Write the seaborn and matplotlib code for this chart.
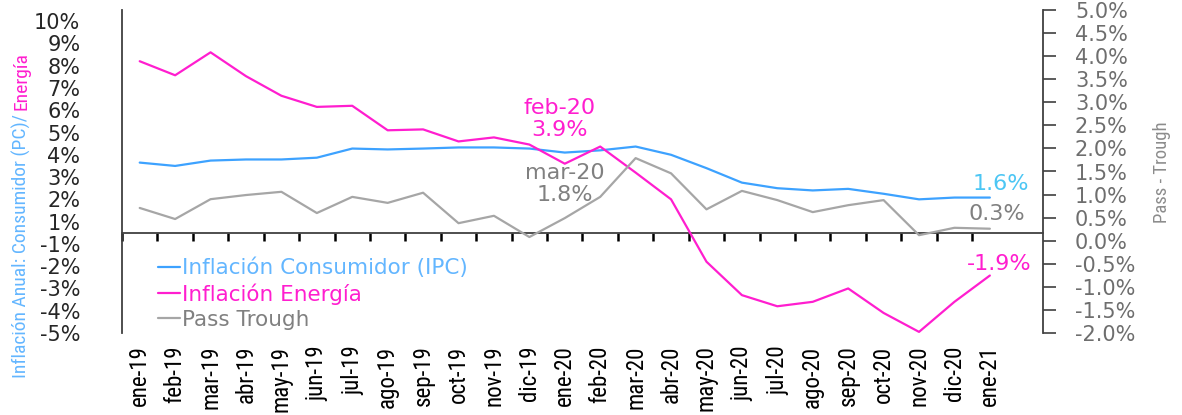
import os
import pandas as pd
import seaborn as sns
import matplotlib.pyplot as plt
from matplotlib import font_manager
from matplotlib.font_manager import FontProperties
from matplotlib.ticker import FuncFormatter

# datos (% anual)
meses = ['ene-19', 'feb-19', 'mar-19', 'abr-19', 'may-19', 'jun-19', 'jul-19',
         'ago-19', 'sep-19', 'oct-19', 'nov-19', 'dic-19', 'ene-20', 'feb-20',
         'mar-20', 'abr-20', 'may-20', 'jun-20', 'jul-20', 'ago-20', 'sep-20',
         'oct-20', 'nov-20', 'dic-20', 'ene-21']
ipc = [3.15, 3.00, 3.24, 3.29, 3.29, 3.37, 3.78, 3.74, 3.78, 3.83, 3.83, 3.78,
       3.60, 3.70, 3.87, 3.50, 2.90, 2.25, 2.00, 1.90, 1.97, 1.75, 1.50, 1.58, 1.58]
energia = [7.70, 7.07, 8.10, 7.03, 6.15, 5.65, 5.70, 4.60, 4.64, 4.10, 4.28, 3.96,
           3.10, 3.87, 2.70, 1.50, -1.30, -2.80, -3.30, -3.10, -2.50, -3.60, -4.45,
           -3.10, -1.92]
pass_trough = [0.71, 0.47, 0.90, 0.99, 1.06, 0.60, 0.95, 0.82, 1.04, 0.38, 0.54,
               0.08, 0.49, 0.95, 1.79, 1.46, 0.68, 1.08, 0.88, 0.62, 0.77, 0.88,
               0.12, 0.28, 0.26]

c_ipc = '#3DA2FF'
c_ipc_txt = '#63B6FF'
c_ene = '#FF1ECF'
c_pt = '#A6A6A6'
c_pt_txt = '#808080'
c_axis = '#404040'

df = pd.DataFrame({'pos': range(len(meses)), 'mes': meses, 'ipc': ipc,
                   'energia': energia, 'pass': pass_trough})

sns.set_style('white')
plt.rcParams['font.family'] = ['DejaVu Sans']

# fuente estrecha para textos verticales
files = [f.fname for f in font_manager.fontManager.ttflist]
narrow_file = None
for key in ['LiberationSansNarrow-Regular', 'NotoSans-ExtraCondensed.', 'NotoSans-Condensed.',
            'RobotoCondensed-Regular', 'DejaVuSansCondensed.', 'Condensed-Regular',
            'Condensed.']:
    hits = [fn for fn in files if key.lower() in os.path.basename(fn).lower()]
    if hits:
        narrow_file = hits[0]
        break


def narrow(size):
    if narrow_file:
        return FontProperties(fname=narrow_file, size=size)
    return FontProperties(family='Liberation Sans', size=size * 0.8)


fig = plt.figure(figsize=(11.82, 4.15), dpi=100)
ax = fig.add_axes([122 / 1182, 1 - 333 / 415, (1043 - 122) / 1182, (333 - 10) / 415])
ax2 = ax.twinx()

sns.lineplot(data=df, x='pos', y='ipc', ax=ax, color=c_ipc, lw=1.6,
             label='Inflación Consumidor (IPC)', legend=False)
sns.lineplot(data=df, x='pos', y='energia', ax=ax, color=c_ene, lw=1.6,
             label='Inflación Energía', legend=False)
sns.lineplot(data=df, x='pos', y='pass', ax=ax2, color=c_pt, lw=1.6,
             label='Pass Trough', legend=False)

# eje izquierdo
ax.set_xlim(-0.5, len(meses) + 0.5)
ax.set_ylim(-4.5, 10)
ax.set_yticks([v + 0.5 for v in range(-5, 10)])
ax.yaxis.set_major_formatter(FuncFormatter(
    lambda v, p: f"{int(v + 0.5) if v > 0 else int(v - 0.5)}%"))
ax.tick_params(axis='y', length=0, pad=30, labelsize=15, labelcolor='#262626')
ax.set_xticks(range(len(meses)), meses)
ax.tick_params(axis='x', length=0, pad=9, labelrotation=90)
for t in ax.get_xticklabels():
    t.set_fontproperties(narrow(16.5))
    t.set_color('black')
ax.set_xlabel('')
ax.set_ylabel('')

for s in ['top', 'bottom', 'right']:
    ax.spines[s].set_visible(False)
ax.spines['left'].set_color(c_axis)
ax.spines['left'].set_linewidth(1.3)

# eje secundario
ax2.set_ylim(-2, 5)
ax2.set_yticks([v / 2 for v in range(-4, 11)])
ax2.yaxis.set_major_formatter(FuncFormatter(lambda v, p: f"{v:.1f}%"))
ax2.tick_params(axis='y', direction='out', length=9, width=1.2, color=c_axis,
                pad=14, labelsize=15, labelcolor='#6E6E6E')
ax2.set_ylabel('')
for s in ['top', 'bottom', 'left']:
    ax2.spines[s].set_visible(False)
ax2.spines['right'].set_color(c_axis)
ax2.spines['right'].set_linewidth(1.3)

# linea de cero con marcas entre categorias
lo, hi = ax.get_ylim()
cero = ax.secondary_xaxis((0 - lo) / (hi - lo))
cero.set_xticks([i - 0.5 for i in range(len(meses))])
cero.tick_params(direction='out', length=6, width=1.8, color='black', labelbottom=False)
cero.spines['bottom'].set_color(c_axis)
cero.spines['bottom'].set_linewidth(1.3)

# etiquetas
ax.text(11.85, 5.1, f"feb-20\n{energia[13]:.1f}%", color=c_ene, fontsize=16,
        ha='center', va='center', linespacing=1.1)
ax.text(12.0, 2.2, f"mar-20\n{pass_trough[14]:.1f}%", color=c_pt_txt, fontsize=16,
        ha='center', va='center', linespacing=1.1)
ax.text(24.3, 2.2, f"{ipc[-1]:.1f}%", color='#4CC6F4', fontsize=16,
        ha='center', va='center')
ax.text(24.2, 0.86, f"{pass_trough[-1]:.1f}%", color=c_pt_txt, fontsize=16,
        ha='center', va='center')
ax.text(24.25, -1.40, f"{energia[-1]:.1f}%", color=c_ene, fontsize=16,
        ha='center', va='center')

# leyenda
handles = ax.get_lines()[:2] + ax2.get_lines()[:1]
leg = ax2.legend(handles, [h.get_label() for h in handles], loc='upper left',
                 bbox_to_anchor=(0.03, 0.26), frameon=False, fontsize=15.5,
                 handlelength=1.0, handletextpad=0.1, labelspacing=0.24,
                 labelcolor=[c_ipc_txt, c_ene, c_pt_txt], borderaxespad=0)

# titulos de ejes
t1 = fig.text(21 / 1182, 1 - 378 / 415, 'Inflación Anual: Consumidor (PC)/ ',
              rotation=90, rotation_mode='anchor', ha='left', va='center',
              color=c_ipc_txt, fontproperties=narrow(14))
fig.canvas.draw()
bb = t1.get_window_extent()
fig.text(21 / 1182, bb.y1 / fig.bbox.height, 'Energía', rotation=90,
         rotation_mode='anchor', ha='left', va='center', color=c_ene,
         fontproperties=narrow(14))
fig.text(1162 / 1182, 1 - 172 / 415, 'Pass - Trough', rotation=90,
         ha='center', va='center', color='#8C8C8C', fontproperties=narrow(13.5))

fig.savefig('out.png', dpi=100)
